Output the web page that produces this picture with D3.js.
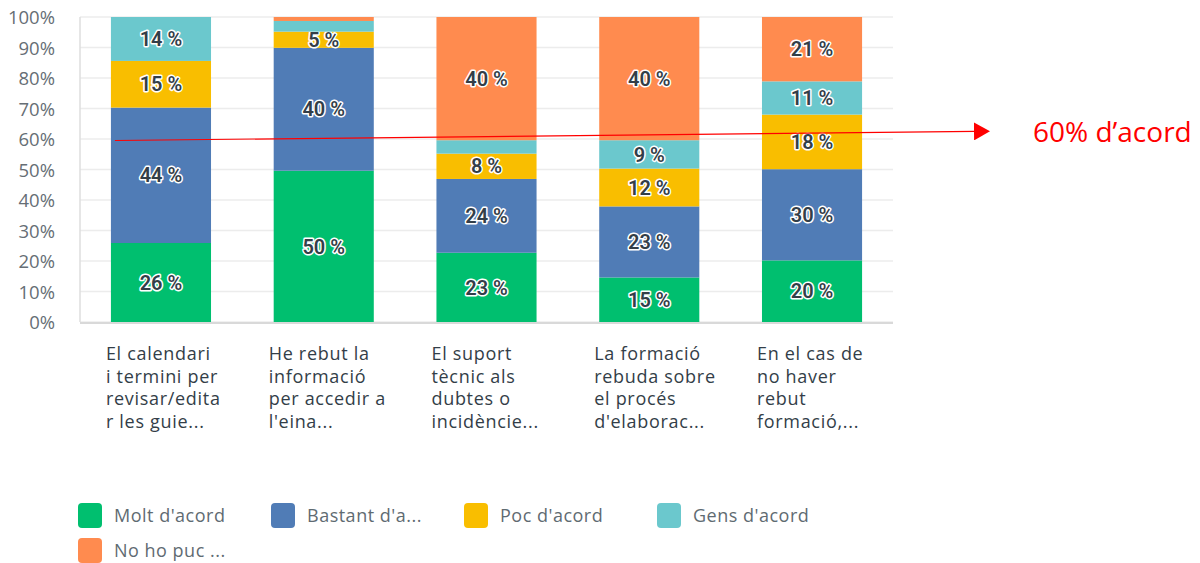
<!DOCTYPE html>
<html>
<head>
<meta charset="utf-8">
<script src="https://cdn.jsdelivr.net/npm/d3@7"></script>
<style>
  body { margin: 0; background: white; }
  svg { display: block; }
</style>
</head>
<body>
<svg id="chart"></svg>
<script>
var WIDTH = 1200,
    HEIGHT = 563,
    PLOT = {left: 80, right: 893, top: 17, bottom: 322},
    FONT = "'Open Sans', sans-serif",
    TEXT_COLOR = "#333e48",
    AXIS_COLOR = "#666e75",
    GRID_COLOR = "#ececec";

// data
var questions = [
  ["El calendari", "i termini per", "revisar/edita", "r les guie..."],
  ["He rebut la", "informació", "per accedir a", "l'eina..."],
  ["El suport", "tècnic als", "dubtes o", "incidèncie..."],
  ["La formació", "rebuda sobre", "el procés", "d'elaborac..."],
  ["En el cas de", "no haver", "rebut", "formació,..."]
];
var answers = ["Molt d'acord", "Bastant d'a...", "Poc d'acord", "Gens d'acord", "No ho puc ..."];
var answerColors = ["#00bf6f", "#507cb6", "#f9be00", "#6bc8cd", "#ff8b4f"];
var moltAcord    = [25.9, 49.6, 22.7, 14.6, 20.2];
var bastantAcord = [44.4, 40.3, 24.2, 23.3, 29.9];
var pocAcord     = [15.3, 5.3, 8.3, 12.4, 17.9];
var gensAcord    = [14.4, 3.5, 4.4, 9.3, 10.9];
var noHoPuc      = [0, 1.3, 40.4, 40.4, 21.1];
var yTicks = [0, 10, 20, 30, 40, 50, 60, 70, 80, 90, 100];
// annotation arrow: start/end level (%) and the note
var arrowLevels = [59.5, 62.5];
var arrowNote = "60% d\u2019acord";

var series = [moltAcord, bastantAcord, pocAcord, gensAcord, noHoPuc];

var svg = d3.select("#chart")
    .attr("width", WIDTH)
    .attr("height", HEIGHT);

var x = d3.scaleBand()
    .domain(d3.range(questions.length))
    .range([PLOT.left, PLOT.right])
    .paddingInner(0.385)
    .paddingOuter(0.19);
var y = d3.scaleLinear()
    .domain([0, 100])
    .range([PLOT.bottom, PLOT.top]);

// gridlines
svg.append("g")
    .selectAll("line")
    .data(yTicks)
    .join("line")
    .attr("x1", PLOT.left)
    .attr("x2", PLOT.right)
    .attr("y1", d => y(d))
    .attr("y2", d => y(d))
    .style("stroke", GRID_COLOR)
    .style("stroke-width", 1.5);

svg.append("line")
    .attr("x1", PLOT.left).attr("x2", PLOT.left)
    .attr("y1", PLOT.top).attr("y2", PLOT.bottom)
    .style("stroke", "#dedede")
    .style("stroke-width", 1.5);

// y axis labels
var yAxis = svg.append("g")
    .attr("transform", "translate(" + (PLOT.left - 25) + ",0)")
    .call(d3.axisLeft(y).tickValues(yTicks).tickFormat(d => d + "%").tickSize(0).tickPadding(0));
yAxis.select(".domain").remove();
yAxis.selectAll("text")
    .attr("dy", "0.36em")
    .style("font-family", FONT)
    .style("font-size", "18.5px")
    .style("fill", AXIS_COLOR);

// stacked bars
var table = questions.map(function(q, i) {
  var row = {i: i};
  answers.forEach(function(a, k) { row[a] = series[k][i]; });
  return row;
});
var stacked = d3.stack().keys(answers)(table);

var layers = svg.append("g")
    .selectAll("g")
    .data(stacked)
    .join("g")
    .style("fill", (d, k) => answerColors[k]);

layers.selectAll("rect")
    .data(d => d)
    .join("rect")
    .attr("x", d => x(d.data.i))
    .attr("width", x.bandwidth())
    .attr("y", d => y(d[1]))
    .attr("height", d => y(d[0]) - y(d[1]));

layers.selectAll("text")
    .data(d => d.filter(s => Math.round(s[1] - s[0]) >= 5))
    .join("text")
    .attr("x", d => x(d.data.i) + x.bandwidth() / 2)
    .attr("y", d => (y(d[0]) + y(d[1])) / 2)
    .attr("dy", "0.36em")
    .style("text-anchor", "middle")
    .style("font-family", "Roboto, sans-serif")
    .style("font-size", "20px")
    .style("font-weight", "600")
    .style("fill", TEXT_COLOR)
    .style("stroke", "white")
    .style("stroke-width", 3)
    .style("stroke-linejoin", "round")
    .style("paint-order", "stroke")
    .text(d => Math.round(d[1] - d[0]) + " %");

// baseline
svg.append("line")
    .attr("x1", PLOT.left).attr("x2", PLOT.right)
    .attr("y1", PLOT.bottom + 1).attr("y2", PLOT.bottom + 1)
    .style("stroke", "#d9d9d9")
    .style("stroke-width", 2);

// category labels
var cats = svg.append("g")
    .selectAll("text")
    .data(questions)
    .join("text")
    .attr("x", (d, i) => x(i) - 5)
    .attr("y", 360)
    .style("font-family", FONT)
    .style("font-size", "18px")
    .style("letter-spacing", "0.7px")
    .style("fill", TEXT_COLOR);
cats.selectAll("tspan")
    .data(d => d)
    .join("tspan")
    .attr("x", function() { return d3.select(this.parentNode).attr("x"); })
    .attr("dy", (d, j) => j === 0 ? 0 : 22.5)
    .text(d => d);

// legend
var legend = svg.append("g")
    .selectAll("g")
    .data(answers)
    .join("g")
    .attr("transform", (d, k) => "translate(" + (78 + (k % 4) * 193) + "," + (503 + Math.floor(k / 4) * 35) + ")");
legend.append("rect")
    .attr("width", 24)
    .attr("height", 25)
    .attr("rx", 4)
    .style("fill", (d, k) => answerColors[k]);
legend.append("text")
    .attr("x", 36)
    .attr("y", 19)
    .style("font-family", FONT)
    .style("font-size", "18px")
    .style("letter-spacing", "0.5px")
    .style("fill", "#5f6b72")
    .text(d => d);

// annotation
svg.append("defs").append("marker")
    .attr("id", "arrowhead")
    .attr("markerUnits", "userSpaceOnUse")
    .attr("markerWidth", 16)
    .attr("markerHeight", 18)
    .attr("refX", 1)
    .attr("refY", 9)
    .attr("orient", "auto")
  .append("path")
    .attr("d", "M 0 0 L 16 9 L 0 18 Z")
    .style("fill", "#ff0000");

svg.append("line")
    .attr("x1", x(0) + 4)
    .attr("y1", y(arrowLevels[0]))
    .attr("x2", 975)
    .attr("y2", y(arrowLevels[1]))
    .style("stroke", "#ff0000")
    .style("stroke-width", 1.2)
    .attr("marker-end", "url(#arrowhead)");

svg.append("text")
    .attr("x", 1033)
    .attr("y", 142)
    .style("font-family", FONT)
    .style("font-size", "28px")
    .style("fill", "#ff0000")
    .text(arrowNote);
</script>
</body>
</html>
